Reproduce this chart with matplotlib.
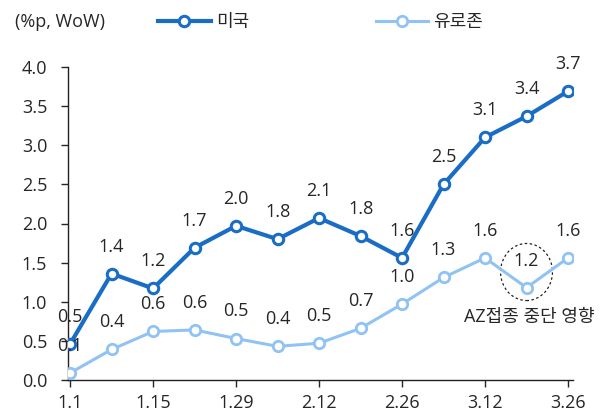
import matplotlib
matplotlib.use("Agg")
import matplotlib.pyplot as plt
from matplotlib.patches import Ellipse
from matplotlib.lines import Line2D

plt.rcParams['font.family'] = ['Open Sans', 'Noto Sans CJK KR', 'DejaVu Sans']

dates = ["1.1", "1.8", "1.15", "1.22", "1.29", "2.5", "2.12",
         "2.19", "2.26", "3.5", "3.12", "3.19", "3.26"]
us = [0.46, 1.36, 1.17, 1.69, 1.97, 1.80, 2.07, 1.84, 1.56, 2.50, 3.10, 3.37, 3.69]
us_labels = ["0.5", "1.4", "1.2", "1.7", "2.0", "1.8", "2.1", "1.8", "1.6",
             "2.5", "3.1", "3.4", "3.7"]
euro = [0.09, 0.39, 0.62, 0.64, 0.53, 0.43, 0.47, 0.66, 0.97, 1.31, 1.56, 1.18, 1.56]
euro_labels = ["0.1", "0.4", "0.6", "0.6", "0.5", "0.4", "0.5", "0.7", "1.0",
               "1.3", "1.6", "1.2", "1.6"]

c_us = "#1a6dc4"
c_eu = "#90c3f3"
txt = "#262626"
fs = 13

fig = plt.figure(figsize=(6.04, 4.16), dpi=100)
ax = fig.add_axes([68 / 604, 1 - 380 / 416, (573 - 68) / 604, (380 - 67) / 416])

x = list(range(len(dates)))
ax.plot(x, us, color=c_us, lw=3, marker="o", ms=7.5, mfc="white",
        mec=c_us, mew=2.2, zorder=4)
ax.plot(x, euro, color=c_eu, lw=2.2, marker="o", ms=7.5, mfc="white",
        mec=c_eu, mew=2.0, zorder=3)

for xi, v, s in zip(x, us, us_labels):
    ax.annotate(s, (xi, v), xytext=(0, 13), textcoords="offset points",
                ha="center", va="bottom", fontsize=fs, color=txt, zorder=5)
for xi, v, s in zip(x, euro, euro_labels):
    ax.annotate(s, (xi, v), xytext=(0, 13), textcoords="offset points",
                ha="center", va="bottom", fontsize=fs, color=txt, zorder=5)

# dotted circle around 3.19
ax.add_patch(Ellipse((11, 1.38), 1.25, 0.73, fill=False, ls=(0, (2, 2)),
                     lw=0.9, ec="#222222", zorder=2))
ax.text(12.65, 0.80, "AZ접종 중단 영향", ha="right", va="center",
        fontsize=fs, color=txt, clip_on=False)

ax.set_xlim(-0.05, 12.12)
ax.set_ylim(0, 4)
ax.set_yticks([0, 0.5, 1, 1.5, 2, 2.5, 3, 3.5, 4])
ax.set_yticklabels([f"{v:.1f}" for v in ax.get_yticks()])
ax.set_xticks(x[::2])
ax.set_xticklabels(dates[::2])
ax.tick_params(axis="both", labelsize=fs, colors=txt, length=5, width=1)
ax.tick_params(axis="y", pad=10)
ax.tick_params(axis="x", pad=5)
for side in ["top", "right"]:
    ax.spines[side].set_visible(False)
for side in ["left", "bottom"]:
    ax.spines[side].set_color("#222222")
    ax.spines[side].set_linewidth(1)

fig.text(15 / 604, 1 - 22 / 416, "(%p, WoW)", ha="left", va="center",
         fontsize=fs, color=txt)

handles = [Line2D([], [], color=c_us, lw=3, marker="o", ms=7.5, mfc="white",
                  mec=c_us, mew=2.2),
           Line2D([], [], color=c_eu, lw=2.2, marker="o", ms=7.5, mfc="white",
                  mec=c_eu, mew=2.0)]
fig.legend(handles, ["미국", "유로존"], loc="center left",
           bbox_to_anchor=(142 / 604, 1 - 22 / 416), ncol=2, frameon=False,
           fontsize=fs, handlelength=2.9, columnspacing=7.0,
           handletextpad=0.3, labelcolor=txt)

fig.savefig("out.png", dpi=100)
